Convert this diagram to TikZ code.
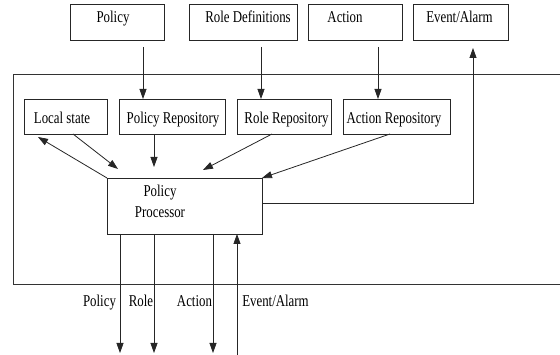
\documentclass[tikz,border=0pt]{standalone}
\usepackage{fontspec}
\setmainfont{Liberation Serif}
\usetikzlibrary{arrows.meta}
% condensed serif lettering used for every label
\newcommand{\narrowlbl}[1]{\scalebox{0.78}[1]{#1}}

\begin{document}
\begin{tikzpicture}[x=1pt,y=-1pt,
  box/.style={draw=black!85, line width=0.8pt, inner sep=0pt, outer sep=0pt,
              minimum height=#1},
  box/.default=36pt,
  lbl/.style={anchor=base, inner sep=0pt, font=\fontsize{16.5}{19}\selectfont},
  frame/.style={draw=black!80, line width=0.8pt},
  arr/.style={draw=black!85, line width=0.8pt, -{Triangle[length=10pt,width=7pt]}}]

\useasboundingbox (0,0) rectangle (560,355);

% outer container (open on the right)
\draw[frame] (560,74) -- (13,74) -- (13,284) -- (560,284);

% top row of inputs
\node[box, minimum width=94pt]  (pTop) at (117,22) {};
\node[box, minimum width=108pt] (rTop) at (243,22) {};
\node[box, minimum width=94pt]  (aTop) at (355,22) {};
\node[box, minimum width=95pt]  (eTop) at (460.5,22) {};
\node[lbl] (pTopT) at (113,23) {\narrowlbl{Policy}};
\node[lbl] (rTopT) at (248,23) {\narrowlbl{Role Definitions}};
\node[lbl] (aTopT) at (345,23) {\narrowlbl{Action}};
\node[lbl] (eTopT) at (459.5,23) {\narrowlbl{Event/Alarm}};

% repositories
\node[box=35pt, minimum width=83pt]  (local) at (65.5,116.5) {};
\node[box=35pt, minimum width=106pt] (prepo) at (172,116.5) {};
\node[box=35pt, minimum width=94pt]  (rrepo) at (284,116.5) {};
\node[box=35pt, minimum width=107pt] (arepo) at (396.5,116.5) {};
\node[lbl] (localT) at (62,124) {\narrowlbl{Local state}};
\node[lbl] (prepoT) at (173,124) {\narrowlbl{Policy Repository}};
\node[lbl] (rrepoT) at (286.5,124) {\narrowlbl{Role Repository}};
\node[lbl] (arepoT) at (394,124) {\narrowlbl{Action Repository}};

% processor
\node[box=56pt, minimum width=155pt] (proc) at (184.5,206) {};
\node[lbl] (procT1) at (160,196.5) {\narrowlbl{Policy}};
\node[lbl] (procT2) at (160,217.5) {\narrowlbl{Processor}};

% free ends of connectors
\coordinate (s1) at (143,47);
\coordinate (s2) at (261,47);
\coordinate (s3) at (378,47);
\coordinate (evin) at (473,48);
\coordinate (t1) at (118,169);
\coordinate (t2) at (154,167);
\coordinate (t3) at (203,170);
\coordinate (o1) at (120,353);
\coordinate (o2) at (154,353);
\coordinate (o3) at (213,353);
\coordinate (i1) at (237,355);

% inputs into repositories
\draw[arr] (s1) -- (s1 |- prepo.north);
\draw[arr] (s2) -- (s2 |- rrepo.north);
\draw[arr] (s3) -- (s3 |- arepo.north);

% repositories into processor
\draw[arr] ([xshift=7.5pt]local.south) -- (t1);
\draw[arr] (proc.north west) -- ([xshift=-27.5pt,yshift=-3pt]local.south);
\draw[arr] ([xshift=-18pt]prepo.south) -- (t2);
\draw[arr] ([xshift=-12pt]rrepo.south) -- (t3);
\draw[arr] ([xshift=-6.5pt]arepo.south) -- (proc.north east);

% event feedback to the top
\draw[arr] ([yshift=3pt]proc.east) -| (evin);

% outputs and event input at the bottom
\draw[arr] (proc.south -| o1) -- (o1);
\draw[arr] (proc.south -| o2) -- (o2);
\draw[arr] (proc.south -| o3) -- (o3);
\draw[arr] (i1) -- (i1 |- proc.south);

\node[lbl] (oT1) at (99.5,307) {\narrowlbl{Policy}};
\node[lbl] (oT2) at (141,307) {\narrowlbl{Role}};
\node[lbl] (oT3) at (194.5,307) {\narrowlbl{Action}};
\node[lbl] (iT1) at (275.5,307) {\narrowlbl{Event/Alarm}};
\end{tikzpicture}
\end{document}
